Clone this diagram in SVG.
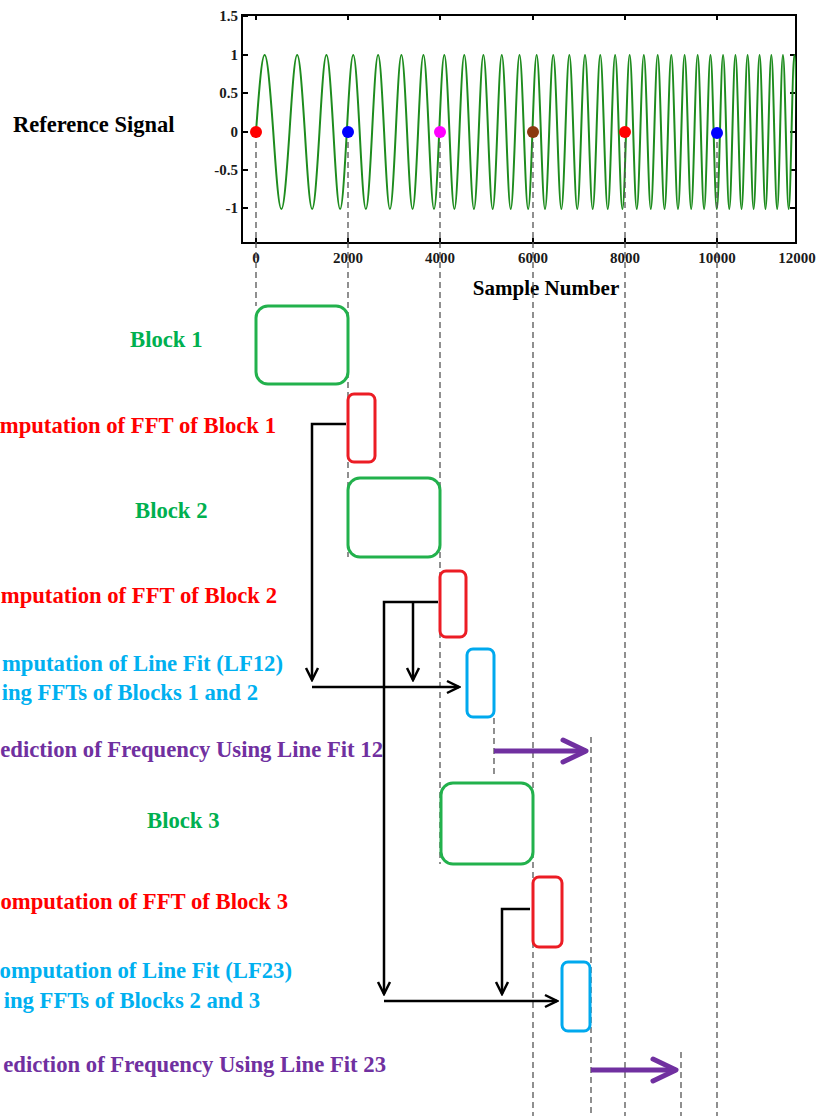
<svg xmlns="http://www.w3.org/2000/svg" width="820" height="1116" viewBox="0 0 820 1116">
<style>
text{font-family:"Liberation Serif","Times New Roman",serif;font-weight:bold}
.lbl{font-size:22.7px}
.tk{font-size:15px;fill:#1a1a1a}
.g{fill:#00B050}.r{fill:#FF0000}.b{fill:#00B0F0}.p{fill:#7030A0}
.dash{stroke:#555;stroke-width:1.3;stroke-dasharray:6 4;fill:none}
.gb{fill:none;stroke:#22B14C;stroke-width:3}
.rb{fill:none;stroke:#EC1C24;stroke-width:3}
.bb{fill:none;stroke:#00A9EE;stroke-width:3}
.con{fill:none;stroke:#000;stroke-width:2.5}
.pa{fill:none;stroke:#7030A0;stroke-width:5}
.ax{fill:none;stroke:#000;stroke-width:2}
</style>
<defs>
<marker id="ah" markerUnits="userSpaceOnUse" viewBox="-2 -2 16 16" markerWidth="16" markerHeight="16" refX="12" refY="6" orient="auto">
<path d="M0,0 L12,6 L0,12" fill="none" stroke="#000" stroke-width="2.5"/>
</marker>
<marker id="ph" markerUnits="userSpaceOnUse" viewBox="0 0 32 32" markerWidth="32" markerHeight="32" refX="27" refY="16" orient="auto">
<path d="M4,5 L27,16 L4,27" fill="none" stroke="#7030A0" stroke-width="5" stroke-linecap="round" stroke-linejoin="round"/>
</marker>
<clipPath id="pc"><rect x="242" y="15" width="554" height="228"/></clipPath>
</defs>
<rect width="820" height="1116" fill="#fff"/>

<g id="plot">
<text x="13" y="132" style="font-size:22.5px" fill="#000">Reference Signal</text>
<path class="ax" d="M242,15 H796 V243 H242 Z"/>
<path class="ax" stroke-width="1.5" d="M256,243 v-5 M348,243 v-5 M440,243 v-5 M533,243 v-5 M625,243 v-5 M717,243 v-5 M256,15 v5 M348,15 v5 M440,15 v5 M533,15 v5 M625,15 v5 M717,15 v5 M242,16 h6 M242,55 h6 M242,93 h6 M242,132 h6 M242,170 h6 M242,208 h6 M796,55 h-6 M796,93 h-6 M796,132 h-6 M796,170 h-6 M796,208 h-6"/>
<g class="tk" text-anchor="end">
<text x="238" y="21">1.5</text>
<text x="238" y="60">1</text>
<text x="238" y="98">0.5</text>
<text x="238" y="137">0</text>
<text x="238" y="175">-0.5</text>
<text x="238" y="213">-1</text>
</g>
<g class="tk" text-anchor="middle">
<text x="256" y="263">0</text>
<text x="348" y="263">2000</text>
<text x="440" y="263">4000</text>
<text x="533" y="263">6000</text>
<text x="625" y="263">8000</text>
<text x="717" y="263">10000</text>
<text x="797" y="263">12000</text>
</g>
<text x="546" y="295" text-anchor="middle" style="font-size:21px" fill="#000">Sample Number</text>
<path clip-path="url(#pc)" fill="none" stroke="#1E8C1E" stroke-width="2" d="M256,132
c7.33,-102.67 9.95,-102.67 17.28,0 c6.89,102.67 9.34,102.67 16.23,0
c6.51,-102.67 8.84,-102.67 15.35,0 c6.20,102.67 8.40,102.67 14.60,0
c5.92,-102.67 8.03,-102.67 13.95,0 c5.68,102.67 7.71,102.67 13.39,0
c5.46,-102.67 7.41,-102.67 12.87,0 c5.27,102.67 7.15,102.67 12.42,0
c5.10,-102.67 6.92,-102.67 12.02,0 c4.94,102.67 6.71,102.67 11.65,0
c4.80,-102.67 6.51,-102.67 11.31,0 c4.66,102.67 6.33,102.67 10.99,0
c4.55,-102.67 6.17,-102.67 10.72,0 c4.43,102.67 6.01,102.67 10.44,0
c4.33,-102.67 5.88,-102.67 10.21,0 c4.23,102.67 5.74,102.67 9.97,0
c4.14,-102.67 5.62,-102.67 9.76,0 c4.06,102.67 5.50,102.67 9.56,0
c3.97,-102.67 5.39,-102.67 9.36,0 c3.90,102.67 5.29,102.67 9.19,0
c3.83,-102.67 5.19,-102.67 9.02,0 c3.76,102.67 5.10,102.67 8.86,0
c3.70,-102.67 5.01,-102.67 8.71,0 c3.64,102.67 4.93,102.67 8.57,0
c3.58,-102.67 4.85,-102.67 8.43,0 c3.52,102.67 4.77,102.67 8.29,0
c3.47,-102.67 4.71,-102.67 8.18,0 c3.42,102.67 4.63,102.67 8.05,0
c3.37,-102.67 4.57,-102.67 7.94,0 c3.32,102.67 4.51,102.67 7.83,0
c3.28,-102.67 4.44,-102.67 7.72,0 c3.24,102.67 4.39,102.67 7.63,0
c3.20,-102.67 4.33,-102.67 7.53,0 c3.15,102.67 4.28,102.67 7.43,0
c3.12,-102.67 4.22,-102.67 7.34,0 c3.08,102.67 4.18,102.67 7.26,0
c3.04,-102.67 4.13,-102.67 7.17,0 c3.01,102.67 4.08,102.67 7.09,0
c2.98,-102.67 4.03,-102.67 7.01,0 c2.95,102.67 3.99,102.67 6.94,0
c2.91,-102.67 3.95,-102.67 6.86,0 c2.89,102.67 3.91,102.67 6.80,0
c2.85,-102.67 3.87,-102.67 6.72,0 c2.83,102.67 3.83,102.67 6.66,0
c2.80,-102.67 3.79,-102.67 6.59,0 c2.77,102.67 3.76,102.67 6.53,0
c2.74,-102.67 3.72,-102.67 6.46,0 c2.72,102.67 3.69,102.67 6.41,0
c2.69,-102.67 3.66,-102.67 6.35,0 c2.67,102.67 3.63,102.67 6.30,0
c2.64,-102.67 3.59,-102.67 6.23,0 c2.63,102.67 3.56,102.67 6.19,0
c2.60,-102.67 3.53,-102.67 6.13,0 c2.58,102.67 3.50,102.67 6.08,0
c2.56,-102.67 3.48,-102.67 6.04,0 c2.54,102.67 3.44,102.67 5.98,0
c2.52,-102.67 3.42,-102.67 5.94,0 c2.50,102.67 3.38,102.67 5.88,0
c2.48,-102.67 3.37,-102.67 5.85,0 c2.46,102.67 3.34,102.67 5.80,0
c2.44,-102.67 3.32,-102.67 5.76,0 c2.42,102.67 3.29,102.67 5.71,0
c2.41,-102.67 3.27,-102.67 5.68,0"/>
</g>

<g id="guides">
<path class="dash" d="M256,132 V306 M348,132 V557 M440,132 V864 M533,132 V1116 M625,132 V1116 M717,132 V1116 M494,718 V778 M591,737 V1116 M681,1052 V1116"/>
</g>

<g id="markers">
<circle cx="256" cy="132" r="6" fill="#FF0000"/>
<circle cx="348" cy="132" r="6" fill="#0000FF"/>
<circle cx="440" cy="132" r="6" fill="#FF00FF"/>
<circle cx="533" cy="132" r="6" fill="#8B3A0F"/>
<circle cx="625" cy="132" r="6" fill="#FF0000"/>
<circle cx="717" cy="133" r="6" fill="#0000FF"/>
</g>

<g id="block1">
<text class="lbl g" x="130" y="347">Block 1</text>
<rect class="gb" x="256" y="306" width="92" height="78" rx="12"/>
</g>
<g id="fft1">
<text class="lbl r" x="276" y="433" text-anchor="end">mputation of FFT of Block 1</text>
<rect class="rb" x="348" y="394" width="27" height="68" rx="6"/>
</g>
<g id="block2">
<text class="lbl g" x="135" y="518">Block 2</text>
<rect class="gb" x="348" y="478" width="92" height="79" rx="12"/>
</g>
<g id="fft2">
<text class="lbl r" x="277" y="603" text-anchor="end">mputation of FFT of Block 2</text>
<rect class="rb" x="440" y="571" width="26" height="66" rx="6"/>
</g>
<g id="lf12">
<text class="lbl b" x="283" y="671" text-anchor="end">mputation of Line Fit (LF12)</text>
<text class="lbl b" x="258" y="700" text-anchor="end">ing FFTs of Blocks 1 and 2</text>
<rect class="bb" x="467" y="649" width="27" height="68" rx="6"/>
</g>
<g id="pred12">
<text class="lbl p" x="383" y="757" text-anchor="end">ediction of Frequency Using Line Fit 12</text>
</g>
<g id="block3">
<text class="lbl g" x="147" y="828">Block 3</text>
<rect class="gb" x="441" y="783" width="92" height="81" rx="12"/>
</g>
<g id="fft3">
<text class="lbl r" x="288" y="909" text-anchor="end">omputation of FFT of Block 3</text>
<rect class="rb" x="533" y="877" width="29" height="70" rx="6"/>
</g>
<g id="lf23">
<text class="lbl b" x="292" y="978" text-anchor="end">omputation of Line Fit (LF23)</text>
<text class="lbl b" x="260" y="1008" text-anchor="end">ing FFTs of Blocks 2 and 3</text>
<rect class="bb" x="562" y="962" width="28" height="69" rx="6"/>
</g>
<g id="pred23">
<text class="lbl p" x="386" y="1072" text-anchor="end">ediction of Frequency Using Line Fit 23</text>
</g>

<g id="connectors">
<path class="con" d="M346,424 H312 V680" marker-end="url(#ah)"/>
<path class="con" d="M312,687 H459" marker-end="url(#ah)"/>
<path class="con" d="M438,602 H384 V994" marker-end="url(#ah)"/>
<path class="con" d="M413,602 V680" marker-end="url(#ah)"/>
<path class="con" d="M384,1001 H557" marker-end="url(#ah)"/>
<path class="con" d="M530,909 H502 V994" marker-end="url(#ah)"/>
<path class="pa" d="M494,751 H586" marker-end="url(#ph)"/>
<path class="pa" d="M591,1070 H676" marker-end="url(#ph)"/>
</g>
</svg>
